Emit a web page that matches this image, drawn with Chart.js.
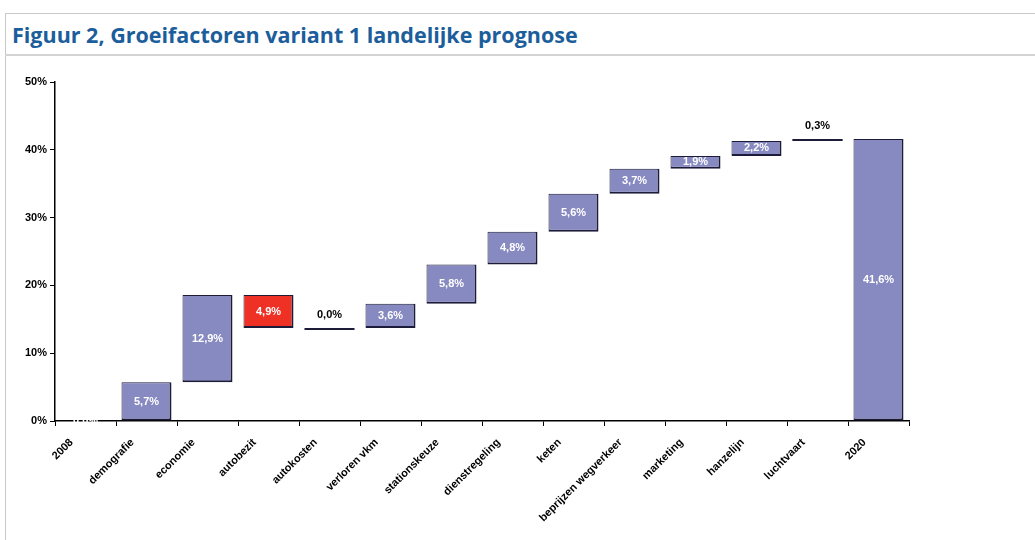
<!DOCTYPE html>
<html>
<head>
<meta charset="utf-8">
<script src="https://cdn.jsdelivr.net/npm/chart.js@4.4.1/dist/chart.umd.min.js"></script>
<style>
  html, body { margin:0; padding:0; background:#fff; }
  body { width:1035px; height:540px; position:relative; overflow:hidden; }
  #frame { position:absolute; left:5px; top:13px; width:1040px; height:540px;
           border-top:1px solid #c8c8c8; border-left:1px solid #c8c8c8; }
  #title { position:absolute; left:12px; top:24px; font-family:"Open Sans", sans-serif;
           font-weight:bold; font-size:21.5px; line-height:21.5px; color:#1b5e9b; white-space:nowrap; }
  #sep { position:absolute; left:5px; top:54px; width:1040px; height:0; border-top:2px solid #d4d4d4; }
  #wrap { position:absolute; left:0; top:0; width:1035px; height:540px; }
</style>
</head>
<body>
<div id="frame"></div>
<div id="title">Figuur 2, Groeifactoren variant 1 landelijke prognose</div>
<div id="sep"></div>
<div id="wrap"><canvas id="c" width="1035" height="540"></canvas></div>
<script>
const categories = ["2008","demografie","economie","autobezit","autokosten","verloren vkm","stationskeuze","dienstregeling","keten","beprijzen wegverkeer","marketing","hanzelijn","luchtvaart","2020"];
const barStart = [0, 0, 5.7, 18.6, 13.7, 13.7, 17.3, 23.1, 27.9, 33.5, 37.2, 39.1, 41.3, 0];
const barEnd   = [0, 5.7, 18.6, 13.7, 13.7, 17.3, 23.1, 27.9, 33.5, 37.2, 39.1, 41.3, 41.6, 41.6];
const valueLabels = ["0,0%","5,7%","12,9%","4,9%","0,0%","3,6%","5,8%","4,8%","5,6%","3,7%","1,9%","2,2%","0,3%","41,6%"];
const yTicks = [0, 10, 20, 30, 40, 50];

const BLUE = "#8789c1", RED = "#ee3124", EDGE = "#1c1c3a";
const barColors = barEnd.map((e, i) => e < barStart[i] ? RED : BLUE);

const labelPlugin = {
  id: "valueLabels",
  afterDatasetsDraw(chart) {
    const ctx = chart.ctx, y = chart.scales.y, meta = chart.getDatasetMeta(0);
    ctx.save();
    meta.data.forEach((bar, i) => {
      const s = barStart[i], e = barEnd[i];
      const x = bar.x;
      const small = Math.abs(e - s) < 0.5;
      const yTop = y.getPixelForValue(Math.max(s, e));
      if (small && i !== 0) {
        ctx.strokeStyle = EDGE;
        ctx.lineWidth = 2;
        ctx.beginPath();
        ctx.moveTo(x - bar.width / 2, yTop + 1);
        ctx.lineTo(x + bar.width / 2, yTop + 1);
        ctx.stroke();
      }
      ctx.font = "bold 11px 'Liberation Sans', Arial, sans-serif";
      ctx.textAlign = "center";
      ctx.textBaseline = "middle";
      if (small && i !== 0) {
        ctx.fillStyle = "#000";
        ctx.fillText(valueLabels[i], x, yTop - 13);
      } else {
        ctx.fillStyle = "#fff";
        ctx.fillText(valueLabels[i], x, y.getPixelForValue((s + e) / 2));
      }
    });
    ctx.restore();
  }
};

new Chart(document.getElementById("c"), {
  type: "bar",
  data: {
    labels: categories,
    datasets: [{
      data: barStart.map((s, i) => [s, barEnd[i]]),
      backgroundColor: barColors,
      borderColor: EDGE,
      borderWidth: {top: 1, left: 1, right: 2, bottom: 2},
      borderSkipped: false,
      categoryPercentage: 1,
      barPercentage: 0.82
    }]
  },
  options: {
    responsive: false,
    animation: false,
    layout: { padding: { top: 82, right: 126, left: 0, bottom: 0 } },
    plugins: { legend: { display: false }, tooltip: { enabled: false }, title: { display: false } },
    scales: {
      x: {
        afterFit(s) { s.height = 119; },
        border: { color: "#000", width: 1.5 },
        grid: { drawOnChartArea: false, offset: true, color: "#000", tickLength: 5 },
        ticks: {
          minRotation: 45, maxRotation: 45, autoSkip: false, padding: 10, labelOffset: -14,
          color: "#000", font: { family: "'Liberation Sans', Arial, sans-serif", size: 11, weight: "bold" }
        }
      },
      y: {
        min: 0, max: 50,
        afterFit(s) { s.width = 55; },
        afterBuildTicks(s) { s.ticks = yTicks.map(v => ({ value: v })); },
        border: { color: "#000", width: 1.5 },
        grid: { drawOnChartArea: false, color: "#000", tickLength: 5 },
        ticks: {
          padding: 3, color: "#000",
          font: { family: "'Liberation Sans', Arial, sans-serif", size: 11, weight: "bold" },
          callback: v => v + "%"
        }
      }
    }
  },
  plugins: [labelPlugin]
});
</script>
</body>
</html>
